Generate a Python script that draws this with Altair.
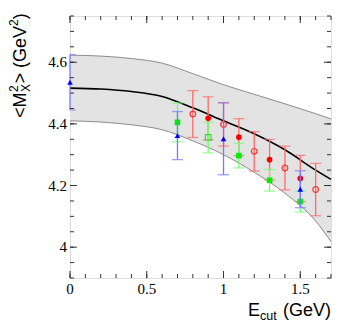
import altair as alt
import pandas as pd

# ---------------- data ----------------
band_x = [0.0, 0.2, 0.4, 0.6, 0.8, 1.0, 1.2, 1.4, 1.6, 1.7]
band_mid = [4.516, 4.513, 4.505, 4.489, 4.452, 4.410, 4.368, 4.316, 4.250, 4.220]
band_hi = [4.623, 4.620, 4.612, 4.597, 4.563, 4.527, 4.496, 4.465, 4.433, 4.416]
band_lo = [4.410, 4.406, 4.397, 4.381, 4.345, 4.300, 4.243, 4.175, 4.085, 4.018]

blue_x = [0.0, 0.7, 1.0, 1.5]
blue_y = [4.535, 4.362, 4.352, 4.188]
blue_e = [0.090, 0.078, 0.117, 0.060]

green_x = [0.7, 1.1, 1.3, 1.5]
green_y = [4.405, 4.297, 4.217, 4.148]
green_e = [0.063, 0.040, 0.035, 0.034]

green_open_x = [0.9]
green_open_y = [4.356]
green_open_e = [0.050]

red_x = [0.9, 1.1, 1.3, 1.5]
red_y = [4.418, 4.357, 4.284, 4.223]
red_e = [0.070, 0.060, 0.066, 0.075]

red_open_x = [0.8, 1.0, 1.2, 1.4, 1.6]
red_open_y = [4.432, 4.398, 4.311, 4.257, 4.187]
red_open_e = [0.076, 0.070, 0.064, 0.071, 0.085]

x_labels = [0, 0.5, 1, 1.5]
x_label_text = ["0", "0.5", "1", "1.5"]
y_labels = [4.0, 4.2, 4.4, 4.6]
y_label_text = ["4", "4.2", "4.4", "4.6"]
x_minor = [round(0.1 * i, 1) for i in range(18)]
y_minor = [round(3.9 + 0.05 * i, 2) for i in range(18)]

# ---------------- layout ----------------
W, H = 261, 262
XDOM = [0, 1.7]
YDOM = [3.9, 4.75]
xs = alt.Scale(domain=XDOM, nice=False, zero=False)
ys = alt.Scale(domain=YDOM, nice=False, zero=False)
SERIF = "'Liberation Serif', 'Times New Roman', 'DejaVu Serif', serif"
SANS = "'Liberation Sans', Arial, sans-serif"


def X(f):
    return alt.X(f, scale=xs, axis=None)


def Y(f):
    return alt.Y(f, scale=ys, axis=None)


band = pd.DataFrame({"x": band_x, "mid": band_mid, "hi": band_hi, "lo": band_lo})

area = alt.Chart(band).mark_area(color="#e3e3e3", interpolate="monotone").encode(
    x=X("x:Q"), y=Y("lo:Q"), y2="hi:Q")
hi_line = alt.Chart(band).mark_line(color="#8c8c8c", strokeWidth=1, interpolate="monotone").encode(
    x=X("x:Q"), y=Y("hi:Q"))
lo_line = alt.Chart(band).mark_line(color="#8c8c8c", strokeWidth=1, interpolate="monotone").encode(
    x=X("x:Q"), y=Y("lo:Q"))
mid_line = alt.Chart(band).mark_line(color="#000", strokeWidth=1.6, interpolate="monotone").encode(
    x=X("x:Q"), y=Y("mid:Q"))

layers = [area, hi_line, lo_line, mid_line]


def series(xv, yv, ev, bar_color, color, shape, filled):
    df = pd.DataFrame({"x": xv, "y": yv, "e": ev})
    base = alt.Chart(df).transform_calculate(lo="datum.y - datum.e", hi="datum.y + datum.e")
    bar = base.mark_rule(color=bar_color, strokeWidth=1.3).encode(x=X("x:Q"), y=Y("lo:Q"), y2="hi:Q")
    cap1 = base.mark_tick(color=bar_color, orient="horizontal", size=11, thickness=1.3, clip=True).encode(
        x=X("x:Q"), y=Y("lo:Q"))
    cap2 = base.mark_tick(color=bar_color, orient="horizontal", size=11, thickness=1.3, clip=True).encode(
        x=X("x:Q"), y=Y("hi:Q"))
    if filled:
        pt = base.mark_point(shape=shape, filled=True, color=color, size=32, opacity=1)
    else:
        pt = base.mark_point(shape=shape, filled=False, color=color, size=32, strokeWidth=1.2, opacity=1)
    pt = pt.encode(x=X("x:Q"), y=Y("y:Q"))
    return [bar, cap1, cap2, pt]


layers += series(red_open_x, red_open_y, red_open_e, "#ff6a6a", "#ff3030", "circle", False)
layers += series(red_x, red_y, red_e, "#ff6a6a", "#ff0000", "circle", True)
layers += series(green_x, green_y, green_e, "#70ff70", "#00ee00", "square", True)
layers += series(green_open_x, green_open_y, green_open_e, "#70ff70", "#33dd33", "square", False)
layers += series(blue_x, blue_y, blue_e, "#7878ff", "#0000ff", "triangle-up", True)

# frame ticks (inside, ROOT style)
TICK = "#333"


def xticks(vals, L):
    df = pd.DataFrame({"v": vals})
    b = alt.Chart(df).mark_rule(color=TICK, strokeWidth=1)
    return [b.encode(x=X("v:Q"), y=alt.value(H), y2=alt.value(H - L)),
            b.encode(x=X("v:Q"), y=alt.value(0), y2=alt.value(L))]


def yticks(vals, L):
    df = pd.DataFrame({"v": vals})
    b = alt.Chart(df).mark_rule(color=TICK, strokeWidth=1)
    return [b.encode(y=Y("v:Q"), x=alt.value(0), x2=alt.value(L)),
            b.encode(y=Y("v:Q"), x=alt.value(W), x2=alt.value(W - L))]


layers += xticks(x_minor, 4) + xticks(x_labels, 7)
layers += yticks(y_minor, 4) + yticks(y_labels, 7)

# tick labels
xl = pd.DataFrame({"v": x_labels, "t": x_label_text})
yl = pd.DataFrame({"v": y_labels, "t": y_label_text})
layers += [
    alt.Chart(xl).mark_text(font=SERIF, fontSize=15, color="#000", align="center", baseline="alphabetic").encode(
        x=X("v:Q"), y=alt.value(H + 16), text="t:N"),
    alt.Chart(yl).mark_text(font=SERIF, fontSize=15, color="#000", align="right", baseline="middle").encode(
        y=Y("v:Q"), x=alt.value(-3), text="t:N"),
]

# axis titles built from text pieces (sub/superscripts)
one = pd.DataFrame({"a": [0]})


def txt(s, x, y, size, align="left", angle=0):
    kw = dict(text=s, font=SANS, fontSize=size, align=align, baseline="alphabetic", color="#000")
    if angle:
        kw["angle"] = angle
    return alt.Chart(one).mark_text(**kw).encode(x=alt.value(x), y=alt.value(y))


# x title: E_cut (GeV)
layers += [
    txt("E", 178, 300, 18),
    txt("cut", 190, 304, 12.5),
    txt("(GeV)", W, 300, 18, align="right"),
]
# y title: <M^2_X> (GeV^2)
bx = -44
layers += [
    txt("<M", bx, 102, 18, angle=270),
    txt("2", bx - 8, 76, 12, angle=270),
    txt("X", bx + 4, 76, 12, angle=270),
    txt("> (GeV", bx, 67.5, 18, angle=270),
    txt("2", bx - 8, 10, 12, angle=270),
    txt(")", bx, 3.3, 18, angle=270),
]

chart = alt.layer(*layers).properties(
    width=W, height=H,
    autosize=alt.AutoSizeParams(type="none"),
    padding={"left": 62, "top": 8, "right": 10, "bottom": 46},
).configure_view(stroke="#000", strokeWidth=1).configure(background="white")

chart.save("out.html", embed_options={"renderer": "svg", "actions": False})
